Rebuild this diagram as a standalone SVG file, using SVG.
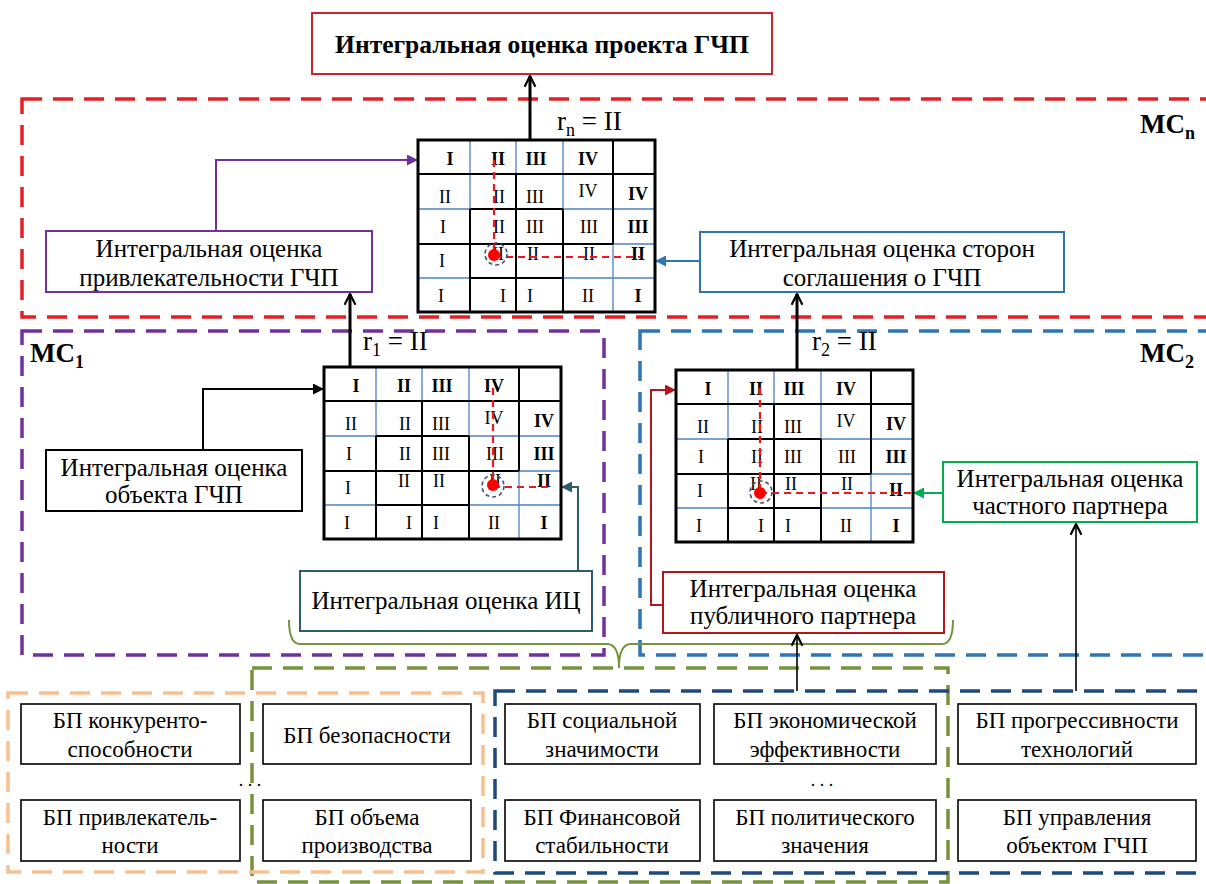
<svg xmlns="http://www.w3.org/2000/svg" xmlns:xlink="http://www.w3.org/1999/xlink" width="1206" height="884" viewBox="0 0 1206 884">
<style>
text{font-family:"Liberation Serif","Times New Roman","DejaVu Serif",serif;fill:#000}
.lbl{font-size:25px;text-anchor:middle}
.bp{font-size:23px;text-anchor:middle}
.num{font-size:18px;text-anchor:middle}
.b{font-weight:bold}
.gb{stroke:#000;stroke-width:2;fill:none}
.gl{stroke:#4f81bd;stroke-width:1.3;fill:none}
.frame{fill:none;stroke-width:3.5;stroke-dasharray:20 11}
.box{fill:#fff;stroke-width:2}
.bpbox{fill:#fff;stroke:#000;stroke-width:1.6}
.rd{stroke:#e8191f;stroke-width:2.2;stroke-dasharray:7 5;fill:none}
.dot{fill:#ff0000}
.ring{fill:none;stroke:#44546a;stroke-width:1.6;stroke-dasharray:4 3}
.con{fill:none;stroke-width:2}
.up{fill:none;stroke:#000;stroke-width:3}
.upt{fill:none;stroke:#000;stroke-width:1.6}
</style>
<defs>
<marker id="aP" viewBox="0 0 10 10" refX="10" refY="5" markerWidth="11" markerHeight="11" orient="auto" markerUnits="userSpaceOnUse"><path d="M0,0L10,5L0,10z" fill="#7030a0"/></marker>
<marker id="aK" viewBox="0 0 10 10" refX="10" refY="5" markerWidth="11" markerHeight="11" orient="auto" markerUnits="userSpaceOnUse"><path d="M0,0L10,5L0,10z" fill="#000"/></marker>
<marker id="aT" viewBox="0 0 10 10" refX="10" refY="5" markerWidth="11" markerHeight="11" orient="auto" markerUnits="userSpaceOnUse"><path d="M0,0L10,5L0,10z" fill="#2c5d68"/></marker>
<marker id="aR" viewBox="0 0 10 10" refX="10" refY="5" markerWidth="11" markerHeight="11" orient="auto" markerUnits="userSpaceOnUse"><path d="M0,0L10,5L0,10z" fill="#b0171c"/></marker>
<marker id="aB" viewBox="0 0 10 10" refX="10" refY="5" markerWidth="11" markerHeight="11" orient="auto" markerUnits="userSpaceOnUse"><path d="M0,0L10,5L0,10z" fill="#2e75b6"/></marker>
<marker id="aG" viewBox="0 0 10 10" refX="10" refY="5" markerWidth="11" markerHeight="11" orient="auto" markerUnits="userSpaceOnUse"><path d="M0,0L10,5L0,10z" fill="#00b050"/></marker>
<marker id="open" viewBox="0 0 12 12" refX="11" refY="6" markerWidth="13" markerHeight="13" orient="auto" markerUnits="userSpaceOnUse"><path d="M1,1L11,6L1,11" fill="none" stroke="#000" stroke-width="2"/></marker>
<g id="grid">
<rect x="0" y="0" width="237" height="172" fill="#fff"/>
<path class="gl" d="M52,0V69M98,0V34M145,0V69M195,104V172M0,69H52M145,69H237M195,104H237M0,138H52M145,138H237"/>
<path class="gb" d="M0,34H237M52,69V172M98,34V172M145,69V172M195,0V104M52,69H145M0,104H195M52,138H145"/>
<rect x="0" y="0" width="237" height="172" fill="none" stroke="#000" stroke-width="3"/>
</g>
<g id="body" class="num">
<text x="27" y="63">II</text><text x="81" y="63">II</text><text x="117" y="63">III</text><text x="170" y="57">IV</text>
<text x="25" y="93">I</text><text x="81" y="93">II</text><text x="117" y="93">III</text><text x="171" y="93">III</text>
<text x="24" y="127">I</text><text x="80" y="120">II</text><text x="115" y="120">II</text><text x="171" y="120">II</text>
<text x="23" y="162">I</text><text x="85" y="162">I</text><text x="112" y="162">I</text><text x="170" y="162">II</text>
</g>
</defs>

<g id="frames">
<rect x="22" y="99" width="1200" height="218" class="frame" stroke="#e31e24" stroke-width="4"/>
<rect x="22" y="331" width="582" height="324" class="frame" stroke="#7030a0"/>
<rect x="640" y="331" width="600" height="324" class="frame" stroke="#2e75b6"/>
<rect x="252" y="668" width="696" height="214" class="frame" stroke="#77933c" stroke-width="3"/>
<rect x="8" y="693" width="475" height="179" class="frame" stroke="#f8c090" stroke-width="3"/>
<rect x="495" y="691" width="740" height="182" class="frame" stroke="#1f497d" stroke-width="3"/>
<path id="brace" d="M289,620 Q289,644 300,644 L607,644 Q619,644 619,668 Q619,644 631,644 L942,644 Q953,644 953,620" fill="none" stroke="#77933c" stroke-width="2"/>
<text x="1140" y="133" class="b" font-size="27">MC<tspan font-size="18" dy="6">n</tspan></text>
<text x="30" y="362" class="b" font-size="27">MC<tspan font-size="18" dy="6">1</tspan></text>
<text x="1140" y="362" class="b" font-size="27">MC<tspan font-size="18" dy="6">2</tspan></text>
</g>

<g id="connectors">
<path class="up" d="M530,140V76" marker-end="url(#open)"/>
<path class="up" d="M350,367V294" marker-end="url(#open)"/>
<path class="up" d="M797,370V294" marker-end="url(#open)"/>
<path class="upt" d="M797,691V635" marker-end="url(#open)"/>
<path class="upt" d="M1076,691V524" marker-end="url(#open)"/>
<path class="con" stroke="#7030a0" d="M216,231V160H418" marker-end="url(#aP)"/>
<path class="con" stroke="#000" d="M203,450V389H324" marker-end="url(#aK)"/>
<path class="con" stroke="#2c5d68" d="M578,571V487H561" marker-end="url(#aT)"/>
<path class="con" stroke="#b0171c" d="M663,605H651V390H676" marker-end="url(#aR)"/>
<path class="con" stroke="#2e75b6" d="M700,261H655" marker-end="url(#aB)"/>
<path class="con" stroke="#00b050" d="M943,493H913" marker-end="url(#aG)"/>
</g>

<g id="top-box">
<rect x="312" y="13" width="460" height="61" class="box" stroke="#c8262c"/>
<text x="542" y="53" class="b" font-size="25.5" text-anchor="middle">Интегральная оценка проекта ГЧП</text>
</g>

<g id="matrix-n" transform="translate(418,140)">
<use href="#grid"/><use href="#body"/>
<g class="num b"><text x="32" y="25" fill="#7030a0">I</text><text x="80" y="25" fill="#7030a0">II</text><text x="118" y="25" fill="#7030a0">III</text><text x="170" y="25" fill="#7030a0">IV</text></g>
<g class="num b"><text x="220" y="60" fill="#2e75b6">IV</text><text x="220" y="93" fill="#2e75b6">III</text><text x="220" y="120" fill="#2e75b6">II</text><text x="220" y="162" fill="#2e75b6">I</text></g>
<path class="rd" d="M76,20V115M76,117H222"/>
<circle cx="78" cy="114" r="11" class="ring"/><circle cx="76" cy="115" r="6" class="dot"/>
</g>
<text x="557" y="130" font-size="27">r<tspan font-size="18" dy="6">n</tspan><tspan dy="-6"> = II</tspan></text>

<g id="matrix-1" transform="translate(324,367)">
<use href="#grid"/><use href="#body"/>
<g class="num b"><text x="32" y="25">I</text><text x="80" y="25">II</text><text x="118" y="25">III</text><text x="170" y="25">IV</text></g>
<g class="num b"><text x="220" y="60" fill="#215968">IV</text><text x="220" y="93" fill="#215968">III</text><text x="220" y="120" fill="#215968">II</text><text x="220" y="162" fill="#215968">I</text></g>
<path class="rd" d="M169,21V118M169,120H224"/>
<circle cx="169" cy="119" r="11" class="ring"/><circle cx="169" cy="118" r="6" class="dot"/>
</g>
<text x="363" y="350" font-size="27">r<tspan font-size="18" dy="6">1</tspan><tspan dy="-6"> = II</tspan></text>

<g id="matrix-2" transform="translate(676,370)">
<use href="#grid"/><use href="#body"/>
<g class="num b"><text x="32" y="25" fill="#b0171c">I</text><text x="80" y="25" fill="#b0171c">II</text><text x="118" y="25" fill="#b0171c">III</text><text x="170" y="25" fill="#b0171c">IV</text></g>
<g class="num b"><text x="220" y="60" fill="#00a651">IV</text><text x="220" y="93" fill="#00a651">III</text><text x="220" y="126" fill="#00a651">II</text><text x="220" y="162" fill="#00a651">I</text></g>
<path class="rd" d="M84,18V123M84,123H237"/>
<circle cx="85" cy="122" r="11" class="ring"/><circle cx="84" cy="123" r="6" class="dot"/>
</g>
<text x="812" y="350" font-size="27">r<tspan font-size="18" dy="6">2</tspan><tspan dy="-6"> = II</tspan></text>

<g id="attract-box">
<rect x="46" y="231" width="326" height="61" class="box" stroke="#7030a0"/>
<text x="209" y="257" class="lbl">Интегральная оценка</text>
<text x="209" y="286" class="lbl">привлекательности ГЧП</text>
</g>
<g id="parties-box">
<rect x="700" y="232" width="364" height="60" class="box" stroke="#2e75b6"/>
<text x="882" y="257" class="lbl">Интегральная оценка сторон</text>
<text x="882" y="286" class="lbl">соглашения о ГЧП</text>
</g>
<g id="object-box">
<rect x="46" y="450" width="256" height="61" class="box" stroke="#000" stroke-width="1.6"/>
<text x="174" y="476" class="lbl">Интегральная оценка</text>
<text x="174" y="503" class="lbl">объекта ГЧП</text>
</g>
<g id="ic-box">
<rect x="300" y="571" width="292" height="60" class="box" stroke="#2c5d68"/>
<text x="446" y="609" class="lbl">Интегральная оценка ИЦ</text>
</g>
<g id="public-box">
<rect x="663" y="572" width="281" height="61" class="box" stroke="#b0171c"/>
<text x="803" y="597" class="lbl">Интегральная оценка</text>
<text x="803" y="624" class="lbl">публичного партнера</text>
</g>
<g id="private-box">
<rect x="943" y="462" width="254" height="60" class="box" stroke="#00b050"/>
<text x="1070" y="487" class="lbl">Интегральная оценка</text>
<text x="1070" y="514" class="lbl">частного партнера</text>
</g>

<g id="bp-1"><rect x="21" y="704" width="219" height="60" class="bpbox"/><text x="130" y="728" class="bp">БП конкуренто-</text><text x="130" y="757" class="bp">способности</text></g>
<g id="bp-2"><rect x="263" y="704" width="208" height="60" class="bpbox"/><text x="367" y="743" class="bp">БП безопасности</text></g>
<g id="bp-3"><rect x="21" y="800" width="219" height="61" class="bpbox"/><text x="130" y="825" class="bp">БП привлекатель-</text><text x="130" y="853" class="bp">ности</text></g>
<g id="bp-4"><rect x="263" y="800" width="208" height="61" class="bpbox"/><text x="367" y="825" class="bp">БП объема</text><text x="367" y="853" class="bp">производства</text></g>
<g id="bp-5"><rect x="505" y="704" width="195" height="60" class="bpbox"/><text x="602" y="728" class="bp">БП социальной</text><text x="602" y="757" class="bp">значимости</text></g>
<g id="bp-6"><rect x="714" y="704" width="222" height="60" class="bpbox"/><text x="825" y="728" class="bp">БП экономической</text><text x="825" y="757" class="bp">эффективности</text></g>
<g id="bp-7"><rect x="505" y="800" width="195" height="61" class="bpbox"/><text x="602" y="825" class="bp">БП Финансовой</text><text x="602" y="853" class="bp">стабильности</text></g>
<g id="bp-8"><rect x="714" y="800" width="222" height="61" class="bpbox"/><text x="825" y="825" class="bp">БП политического</text><text x="825" y="853" class="bp">значения</text></g>
<g id="bp-9"><rect x="958" y="704" width="238" height="60" class="bpbox"/><text x="1077" y="728" class="bp">БП прогрессивности</text><text x="1077" y="757" class="bp">технологий</text></g>
<g id="bp-10"><rect x="958" y="800" width="238" height="61" class="bpbox"/><text x="1077" y="825" class="bp">БП управления</text><text x="1077" y="853" class="bp">объектом ГЧП</text></g>
<text x="250" y="786" font-size="18" text-anchor="middle">. . .</text>
<text x="822" y="786" font-size="18" text-anchor="middle">. . .</text>
</svg>
